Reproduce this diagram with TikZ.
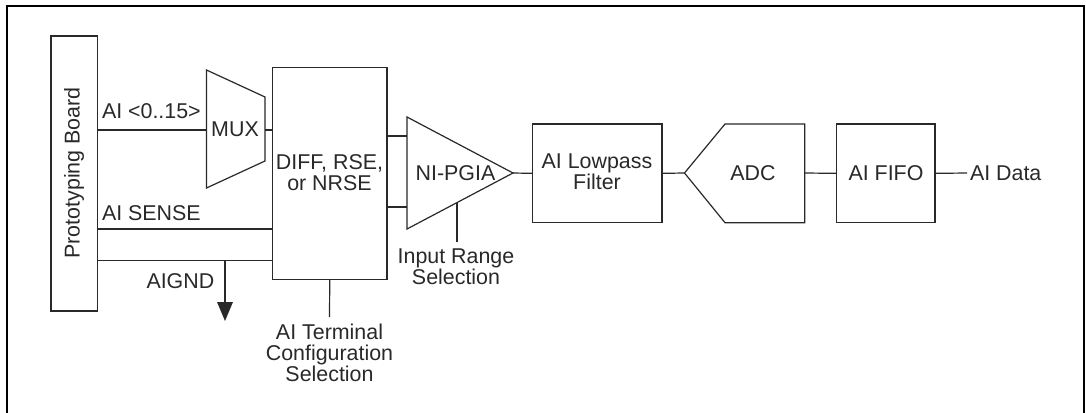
\documentclass[tikz,border=0pt]{standalone}
\usepackage{fontspec}
\setmainfont{Liberation Sans}
\definecolor{ink}{gray}{0.16}
\begin{document}
\begin{tikzpicture}[x=1pt,y=-1pt,
  every node/.style={inner sep=0pt,outer sep=0pt,text=ink},
  lbl/.style={font=\fontsize{21.4}{21}\selectfont,align=center},
  blockbox/.style={draw=ink,line width=1.2pt,fill=white},
  wire/.style={draw=ink,line width=1.2pt},
  frameline/.style={draw=black,line width=2pt}]
\useasboundingbox (0,0) rectangle (1086,412);
\draw[frameline] (7,413) -- (7,6.5) -- (1084,6.5) -- (1084,413);
% blocks
\node[blockbox,minimum width=46.5pt,minimum height=275pt,anchor=north west] (board) at (51,36) {};
\node[lbl,rotate=90] at (74,173) {Prototyping Board};
\draw[blockbox] (206.5,70) coordinate (m1) -- (265,97) coordinate (m2) -- (265,161) coordinate (m3) -- (206.5,188) coordinate (m4) -- cycle;
\node[lbl] (mux) at (235,129) {MUX};
\coordinate (muxin) at (206.5,130);
\coordinate (muxout) at (265,130);
\node[blockbox,minimum width=114.5pt,minimum height=212pt,anchor=north west] (diff) at (272.5,67.5) {};
\node[lbl] (difft) at (329.5,173) {DIFF, RSE,\\or NRSE};
\draw[blockbox] (407,117) coordinate (a1) -- (513,173) coordinate (atip) -- (407,229) coordinate (a2) -- cycle;
\node[lbl] (pgia) at (455.5,173) {NI-PGIA};
\node[blockbox,minimum width=129.5pt,minimum height=98.7pt,anchor=north west] (lp) at (532.5,124) {};
\node[lbl] at (597,172) {AI Lowpass\\Filter};
\draw[blockbox] (684.5,173) coordinate (adcin) -- (725,124) -- (804.7,124) coordinate (adc1) -- (804.7,222.7) coordinate (adc2) -- (725,222.7) -- cycle;
\coordinate (adcout) at (804.7,173);
\node[lbl] at (753,173) {ADC};
\node[blockbox,minimum width=98.3pt,minimum height=98.7pt,anchor=north west] (fifo) at (836.7,124) {};
\node[lbl] at (886,173) {AI FIFO};
% labels
\node[lbl,anchor=west] (aidata) at (970,173) {AI Data};
\node[lbl,anchor=west] at (102,111.5) {AI <0..15>};
\node[lbl,anchor=west] at (102,213) {AI SENSE};
\node[lbl,anchor=west] at (146.5,281.5) {AIGND};
\node[lbl] (term) at (329.5,352.5) {AI Terminal\\Configuration\\Selection};
\node[lbl] (range) at (456,266.5) {Input Range\\Selection};
% connectors
\coordinate (c1) at (97.5,130);
\draw[wire] (c1) -- (muxin);
\draw[wire] (muxout) -- (272.5,130);
\draw[wire] (97.5,229) -- (272.5,229);
\draw[wire] (97.5,260.5) -- (272.5,260.5);
\draw[wire] (225,260.5) -- (225,303);
\fill[ink] (217,302) -- (233,302) -- (225,321) -- cycle;
\draw[wire] (diff.south) -- (329.5,317);
\draw[wire] (387,136) -- (407,136);
\draw[wire] (387,207) -- (407,207);
\draw[wire] (atip) -- (lp.west);
\draw[wire] (457,203) -- (457,242);
\draw[wire] (lp.east) -- (adcin);
\draw[wire] (adcout) -- (fifo.west);
\draw[wire] (fifo.east) -- (967,173);
\end{tikzpicture}
\end{document}
